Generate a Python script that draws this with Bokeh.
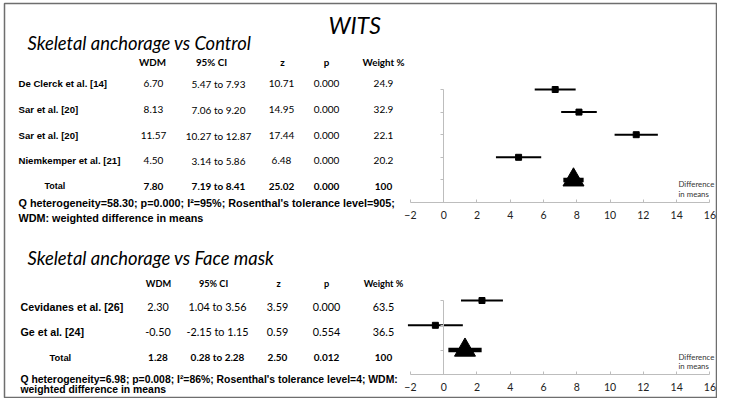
from bokeh.plotting import figure
from bokeh.models import Range1d, LinearAxis, FixedTicker, ColumnDataSource
from bokeh.core.properties import value
from bokeh.embed import file_html
from bokeh.resources import INLINE

# ---------------- data ----------------
title = "WITS"
headers = ["WDM", "95% CI", "z", "p", "Weight %"]
xticks = [-2, 0, 2, 4, 6, 8, 10, 12, 14, 16]

# Skeletal anchorage vs Control
ctrl_title = "Skeletal anchorage vs Control"
ctrl_studies = ["De Clerck et al. [14]", "Sar et al. [20]", "Sar  et al. [20]", "Niemkemper et al. [21]"]
ctrl_wdm = [6.70, 8.13, 11.57, 4.50]
ctrl_lo = [5.47, 7.06, 10.27, 3.14]
ctrl_hi = [7.93, 9.20, 12.87, 5.86]
ctrl_z = [10.71, 14.95, 17.44, 6.48]
ctrl_p = [0.000, 0.000, 0.000, 0.000]
ctrl_w = [24.9, 32.9, 22.1, 20.2]
ctrl_total = [7.80, 7.19, 8.41, 25.02, 0.000, 100]   # wdm, lo, hi, z, p, weight
ctrl_note = ["Q heterogeneity=58.30; p=0.000; I\u00b2=95%; Rosenthal's tolerance level=905;",
             "WDM: weighted difference in means"]

# Skeletal anchorage vs Face mask
fm_title = "Skeletal anchorage vs Face mask"
fm_studies = ["Cevidanes et al.  [26]", "Ge et al. [24]"]
fm_wdm = [2.30, -0.50]
fm_lo = [1.04, -2.15]
fm_hi = [3.56, 1.15]
fm_z = [3.59, 0.59]
fm_p = [0.000, 0.554]
fm_w = [63.5, 36.5]
fm_total = [1.28, 0.28, 2.28, 2.50, 0.012, 100]
fm_note = ["Q heterogeneity=6.98; p=0.008; I\u00b2=86%; Rosenthal's tolerance level=4; WDM:",
           "weighted difference in means"]

axis_label = ["Difference", "in means"]

# ---------------- layout ----------------
W, H = 717, 398
FL, FT, FR, FB = 4, 3, 716, 397     # frame edges (pixel coords inside the figure)

p = figure(width=W, height=H, output_backend="svg", toolbar_location=None,
           x_range=Range1d(FL, FR), y_range=Range1d(FB, FT),
           x_axis_location=None, y_axis_location=None,
           min_border_left=FL, min_border_top=FT, min_border_right=W - FR, min_border_bottom=H - FB)
p.grid.visible = False
p.outline_line_color = "#6e6e6e"
p.outline_line_width = 1.5
p.background_fill_color = "white"
p.border_fill_color = "white"

# forest x scale: value 0 at pixel 443.2
X0, XS = 443.2, 16.64
p.extra_x_ranges = {"fx": Range1d((FL - X0) / XS, (FR - X0) / XS)}


def yrange(y0, step):
    return Range1d((FB - y0) / step, (FT - y0) / step)


p.extra_y_ranges = {"ty": yrange(89.0, 22.6), "by": yrange(300.0, 24.8)}

AX_COL = "#bdbdbd"


def add_axes(yname, n):
    xa = LinearAxis(x_range_name="fx", y_range_name=yname, fixed_location=n + 1,
                    bounds=(xticks[0], xticks[-1]), ticker=FixedTicker(ticks=xticks),
                    axis_line_color=AX_COL, major_tick_line_color=AX_COL,
                    major_tick_in=3, major_tick_out=0, minor_tick_line_color=None,
                    major_label_standoff=8, major_label_text_font="Lato",
                    major_label_text_font_size="10.5px", major_label_text_color="#222222")
    p.add_layout(xa, "below")
    ya = LinearAxis(x_range_name="fx", y_range_name=yname, fixed_location=0,
                    bounds=(0, n + 1), ticker=FixedTicker(ticks=list(range(n + 1))),
                    axis_line_color=AX_COL, major_tick_line_color=AX_COL,
                    major_tick_in=0, major_tick_out=3, minor_tick_line_color=None,
                    major_label_text_alpha=0, major_label_text_font_size="1px")
    p.add_layout(ya, "left")


def forest(yname, wdm, lo, hi, total):
    n = len(wdm)
    src = ColumnDataSource(dict(y=list(range(n)), wdm=wdm, lo=lo, hi=hi))
    p.segment(x0="lo", x1="hi", y0="y", y1="y", source=src, line_width=2, line_color="black",
              x_range_name="fx", y_range_name=yname)
    p.scatter(x="wdm", y="y", source=src, marker="square", size=6, color="black",
              x_range_name="fx", y_range_name=yname)
    tsrc = ColumnDataSource(dict(y=[n], wdm=[total[0]], lo=[total[1]], hi=[total[2]]))
    p.segment(x0="lo", x1="hi", y0="y", y1="y", source=tsrc, line_width=4.5, line_color="black",
              x_range_name="fx", y_range_name=yname)
    p.scatter(x="wdm", y="y", source=tsrc, marker="triangle", size=21, color="black",
              x_range_name="fx", y_range_name=yname)


add_axes("ty", len(ctrl_wdm))
add_axes("by", len(fm_wdm))
forest("ty", ctrl_wdm, ctrl_lo, ctrl_hi, ctrl_total)
forest("by", fm_wdm, fm_lo, fm_hi, fm_total)


def txt(x, y, s, size, font="Lato", style="normal", align="left", baseline="middle", color="black"):
    p.text(x=[x], y=[y], text=[s], text_font=value(font), text_font_size=f"{size}px",
           text_font_style=style, text_align=align, text_baseline=baseline, text_color=color)


ARIAL = "Liberation Sans"

txt(328, 24, title, 23, style="italic")


def table(title_s, y_title, y_head, ys, studies, wdm, lo, hi, z, pv, w, total, note, y_note,
          xlab, xtot, cols, head_cols, fs):
    f_head, f_val, f_lab, f_tot, f_note = fs
    txt(27, y_title, title_s, 18.4, style="italic", baseline="alphabetic")
    for h, cx in zip(headers, head_cols):
        txt(cx, y_head, h, f_head, style="bold", align="center")
    for i, name in enumerate(studies):
        y = ys[i]
        txt(xlab, y, name, f_lab, font=ARIAL, style="bold")
        vals = [f"{wdm[i]:.2f}", f"{lo[i]:.2f} to {hi[i]:.2f}", f"{z[i]:.2f}", f"{pv[i]:.3f}", f"{w[i]:.1f}"]
        for v, cx in zip(vals, cols):
            txt(cx, y, v, f_val, align="center")
    y = ys[len(studies)]
    txt(xtot, y, "Total", f_tot, font=ARIAL, style="bold")
    vals = [f"{total[0]:.2f}", f"{total[1]:.2f} to {total[2]:.2f}", f"{total[3]:.2f}",
            f"{total[4]:.3f}", f"{total[5]:.0f}"]
    for v, cx in zip(vals, cols):
        txt(cx, y, v, 10, style="bold", align="center")
    for k, line in enumerate(note):
        txt(xlab, y_note[k], line, f_note, font=ARIAL, style="bold")


table(ctrl_title, 42, 61, [83.3, 109.3, 135, 160.3, 185.7], ctrl_studies, ctrl_wdm, ctrl_lo, ctrl_hi,
      ctrl_z, ctrl_p, ctrl_w, ctrl_total, ctrl_note, [202, 217], 18, 44,
      [153, 218, 281, 326, 383], [152, 211, 282, 326, 383], (9.8, 10, 9.6, 9.0, 10.8))
table(fm_title, 257, 283, [306, 331, 356.7], fm_studies, fm_wdm, fm_lo, fm_hi,
      fm_z, fm_p, fm_w, fm_total, fm_note, [379, 389], 20, 49,
      [157.5, 217, 277, 326, 383], [158, 213, 278, 326, 383], (9.2, 10.8, 10.7, 9.4, 10.4))

for yy in ([183, 193], [356, 365]):
    for k, s in enumerate(axis_label):
        txt(678, yy[k], s, 7.8, color="#333333")

open("out.html", "w").write(file_html(p, INLINE))
